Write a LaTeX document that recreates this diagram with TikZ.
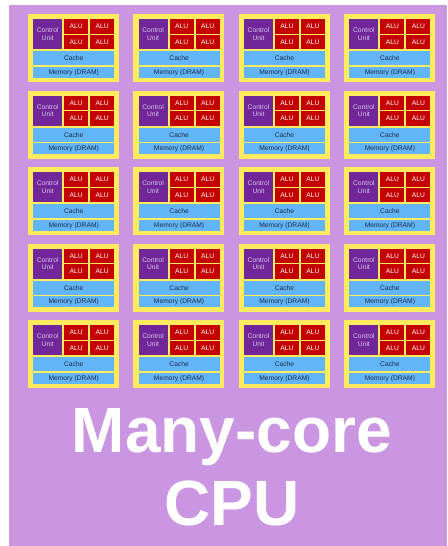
\documentclass[tikz,border=0pt]{standalone}
\usepackage{fontspec}
\setmainfont{Liberation Sans}

\definecolor{chippurple}{HTML}{CA96E1}
\definecolor{coreyellow}{HTML}{FFEB5E}
\definecolor{cupurple}{HTML}{71269A}
\definecolor{alured}{HTML}{C40000}
\definecolor{cacheblue}{HTML}{62B6F8}
\definecolor{cutext}{HTML}{D8C8E8}
\definecolor{darktext}{HTML}{1E2A44}

\tikzset{
  box/.style={anchor=north west, inner sep=0pt, align=center,
    font=\fontsize{6.7}{7.4}\selectfont},
  cu/.style={box, fill=cupurple, text=cutext, minimum width=29pt, minimum height=30pt},
  alu/.style={box, fill=alured, text=white, minimum width=24pt, minimum height=14.3pt},
  cache/.style={box, fill=cacheblue, text=darktext, minimum width=81pt, minimum height=14pt},
  mem/.style={box, fill=cacheblue, text=darktext, minimum width=81pt, minimum height=11pt},
  title/.style={anchor=base, text=white, font=\bfseries\fontsize{64}{70}\selectfont}
}

\begin{document}
\begin{tikzpicture}[x=1pt,y=-1pt]
    \useasboundingbox (0,0) rectangle (447,546);
    \fill[chippurple] (9,5) rectangle (447,546);
    % 4 x 5 cores
    \foreach \c in {0,...,3} {
      \foreach \r in {0,...,4} {
        \begin{scope}[shift={(28+105.4*\c,14+76.5*\r)}]
          \fill[coreyellow] (0,0) rectangle (91,68);
          \node[cu] (cu\c\r) at (5,5) {Control\\Unit};
          \node[alu] (alua\c\r) at (36,5) {ALU};
          \node[alu] (alub\c\r) at (62,5) {ALU};
          \node[alu] (aluc\c\r) at (36,20.7) {ALU};
          \node[alu] (alud\c\r) at (62,20.7) {ALU};
          \node[cache] (cache\c\r) at (5,37) {Cache};
          \node[mem] (mem\c\r) at (5,52.6) {Memory (DRAM)};
        \end{scope}
      }
    }
    \node[title] (many) at (232,452) {Many-core};
    \node[title] (cpu) at (232,525) {CPU};
\end{tikzpicture}
\end{document}
